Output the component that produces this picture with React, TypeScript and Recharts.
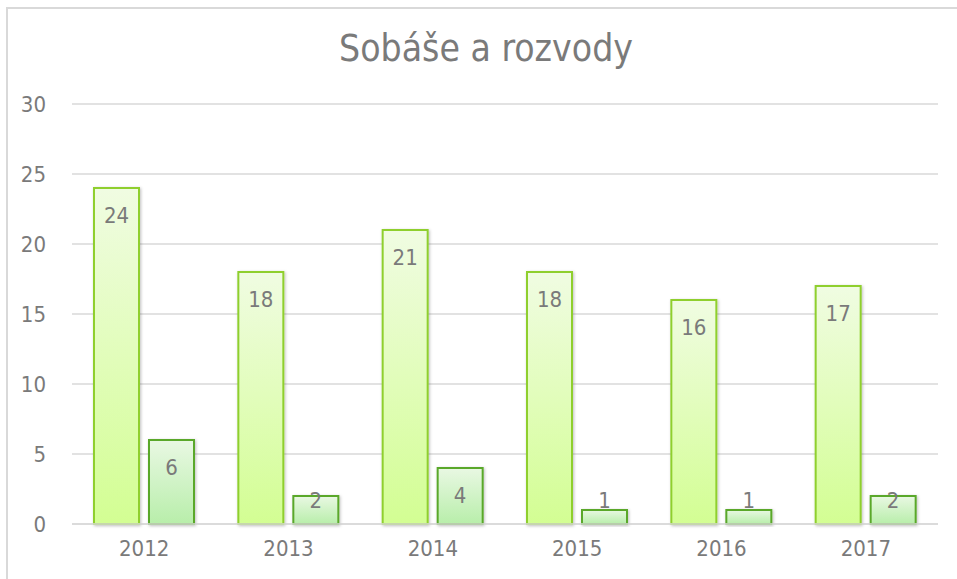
import React from 'react';
import { BarChart, Bar, XAxis, YAxis, CartesianGrid, LabelList } from 'recharts';

const years = ['2012', '2013', '2014', '2015', '2016', '2017'];
const sobase = [24, 18, 21, 18, 16, 17];
const rozvody = [6, 2, 4, 1, 1, 2];
const yTicks = [0, 5, 10, 15, 20, 25, 30];

const data = years.map((y, i) => ({ year: y, sobase: sobase[i], rozvody: rozvody[i] }));

const FONT = '"DejaVu Sans Condensed", "Liberation Sans Narrow", sans-serif';
const TEXT = '#7a7a7a';

const makeLabel = (props: any) => {
  const { x, y, width, height, value } = props;
  const top = y;
  const bottom = y + height;
  const cy = Math.min(top + 27, bottom - 24);
  return (
    <text
      x={x + width / 2}
      y={cy}
      textAnchor="middle"
      dominantBaseline="central"
      fill={TEXT}
      fontSize={22}
      fontFamily={FONT}
    >
      {value}
    </text>
  );
};

export default function App() {
  return (
    <div style={{ position: 'absolute', left: 0, top: 0, width: 957, height: 579, overflow: 'hidden', background: '#fff' }}>
      <div style={{ position: 'absolute', left: 6, top: 7, width: 1000, height: 700, border: '2px solid #d9d9d9', boxSizing: 'border-box' }} />
      <div style={{ position: 'absolute', left: 0, top: 27, width: 972, textAlign: 'center', fontFamily: FONT, fontSize: 37, color: TEXT }}>
        Sobáše a rozvody
      </div>
      <div style={{ position: 'absolute', left: 0, top: 0 }}>
        <BarChart width={957} height={579} data={data} margin={{ top: 104, right: 19, bottom: 25, left: 0 }} barSize={45} barGap={10}>
          <defs>
            <linearGradient id="g1" x1="0" y1="0" x2="0" y2="1">
              <stop offset="0%" stopColor="#f0fce2" />
              <stop offset="100%" stopColor="#d3fe93" />
            </linearGradient>
            <linearGradient id="g2" x1="0" y1="0" x2="0" y2="1">
              <stop offset="0%" stopColor="#e9f8e3" />
              <stop offset="100%" stopColor="#b8eeaa" />
            </linearGradient>
            <filter id="sh" x="-20%" y="-20%" width="140%" height="140%">
              <feDropShadow dx="1" dy="1" stdDeviation="1.5" floodColor="#000" floodOpacity="0.25" />
            </filter>
          </defs>
          <CartesianGrid vertical={false} stroke="#d9d9d9" strokeWidth={1.5} />
          <XAxis
            dataKey="year"
            axisLine={{ stroke: '#d9d9d9', strokeWidth: 1.5 }}
            tickLine={false}
            tickSize={0}
            tickMargin={16}
            height={30}
            tick={{ fill: TEXT, fontSize: 22, fontFamily: FONT }}
          />
          <YAxis
            domain={[0, 30]}
            ticks={yTicks}
            axisLine={false}
            tickLine={false}
            tickSize={0}
            tickMargin={26}
            width={72}
            tick={{ fill: TEXT, fontSize: 22, fontFamily: FONT }}
            interval={0}
          />
          <Bar dataKey="sobase" fill="url(#g1)" stroke="#8fcf2f" strokeWidth={2} isAnimationActive={false} style={{ filter: 'url(#sh)' }}>
            <LabelList dataKey="sobase" content={makeLabel} />
          </Bar>
          <Bar dataKey="rozvody" fill="url(#g2)" stroke="#5aa82a" strokeWidth={2} isAnimationActive={false} style={{ filter: 'url(#sh)' }}>
            <LabelList dataKey="rozvody" content={makeLabel} />
          </Bar>
        </BarChart>
      </div>
    </div>
  );
}
